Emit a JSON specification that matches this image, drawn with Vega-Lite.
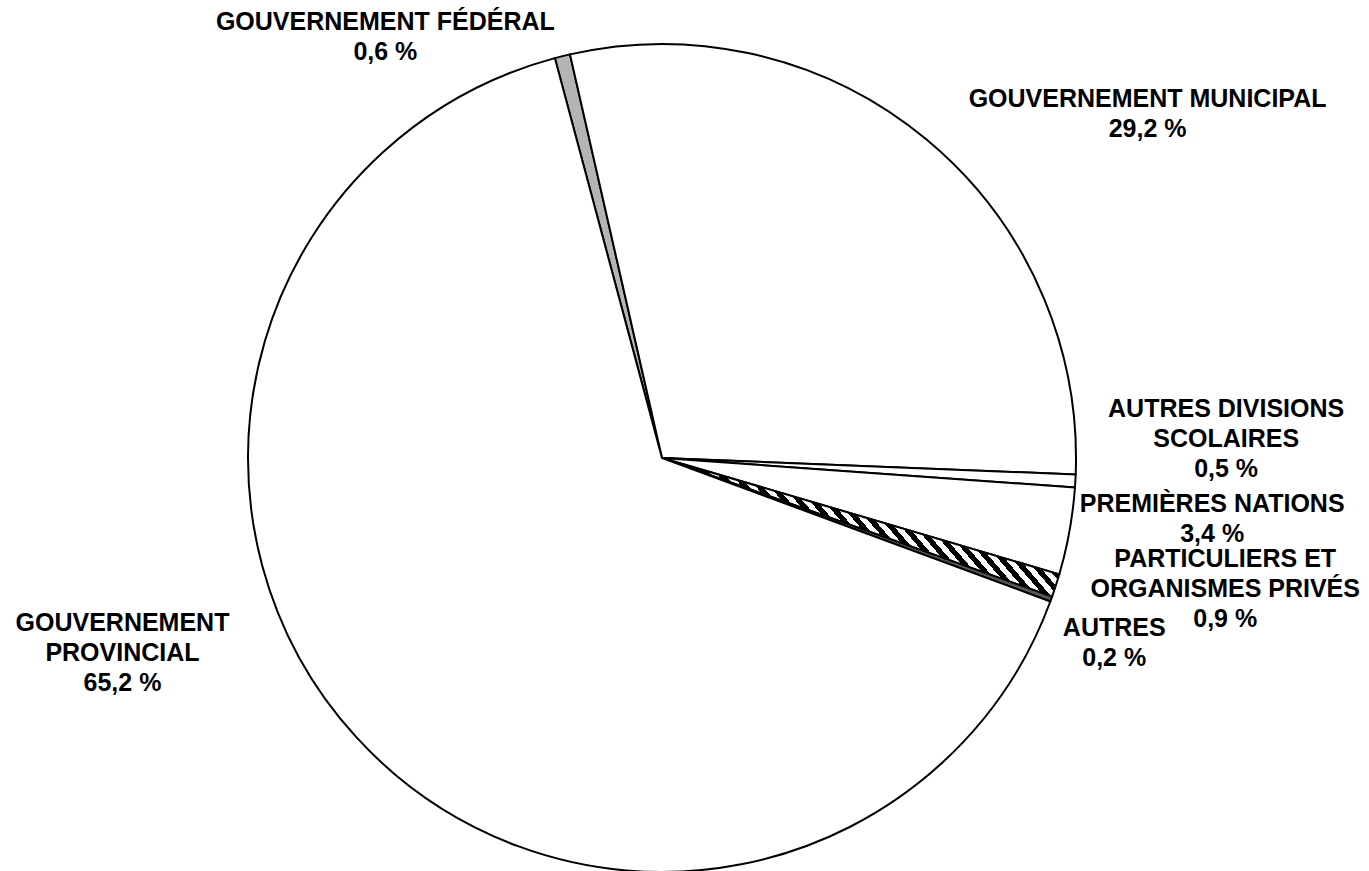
{
  "$schema": "https://vega.github.io/schema/vega-lite/v6.json",
  "width": 1324,
  "height": 916,
  "autosize": "none",
  "padding": {"left": 0, "top": 0, "right": 45, "bottom": 0},
  "background": "white",
  "config": {
    "view": {"stroke": null},
    "text": {"font": "Liberation Sans", "fontWeight": "bold", "fontSize": 25, "lineHeight": 30, "lineBreak": "\n", "align": "center", "baseline": "middle", "fill": "#000"}
  },
  "data": {
    "values": [
      {"cat": "fed", "label": "GOUVERNEMENT FÉDÉRAL\n0,6 %", "value": 0.6, "ord": 1},
      {"cat": "mun", "label": "GOUVERNEMENT MUNICIPAL\n29,2 %", "value": 29.2, "ord": 2},
      {"cat": "div", "label": "AUTRES DIVISIONS\nSCOLAIRES\n0,5 %", "value": 0.5, "ord": 3},
      {"cat": "pn", "label": "PREMIÈRES NATIONS\n3,4 %", "value": 3.4, "ord": 4},
      {"cat": "part", "label": "PARTICULIERS ET\nORGANISMES PRIVÉS\n0,9 %", "value": 0.9, "ord": 5},
      {"cat": "aut", "label": "AUTRES\n0,2 %", "value": 0.2, "ord": 6},
      {"cat": "prov", "label": "GOUVERNEMENT\nPROVINCIAL\n65,2 %", "value": 65.2, "ord": 7}
    ]
  },
  "encoding": {
    "theta": {"field": "value", "type": "quantitative", "stack": true, "scale": {"range": [-0.261799, 6.021386]}},
    "order": {"field": "ord", "type": "quantitative", "sort": "ascending"}
  },
  "layer": [
    {
      "mark": {"type": "arc", "outerRadius": 414, "stroke": "#000", "strokeWidth": 2},
      "encoding": {
        "fill": {
          "condition": [
            {"test": "datum.cat === 'fed'", "value": "#b4b4b4"},
            {"test": "datum.cat === 'aut'", "value": "#555555"},
            {"test": "datum.cat === 'part'", "value": {
              "gradient": "linear", "x1": 0, "y1": 0, "x2": 1, "y2": -0.3,
              "stops": [
                {"offset": 0, "color": "#000"},
                {"offset": 0.016, "color": "#000"}, {"offset": 0.016, "color": "#fff"},
                {"offset": 0.032, "color": "#fff"}, {"offset": 0.032, "color": "#000"},
                {"offset": 0.048, "color": "#000"}, {"offset": 0.048, "color": "#fff"},
                {"offset": 0.064, "color": "#fff"}, {"offset": 0.064, "color": "#000"},
                {"offset": 0.08, "color": "#000"}, {"offset": 0.08, "color": "#fff"},
                {"offset": 0.096, "color": "#fff"}, {"offset": 0.096, "color": "#000"},
                {"offset": 0.112, "color": "#000"}, {"offset": 0.112, "color": "#fff"},
                {"offset": 0.128, "color": "#fff"}, {"offset": 0.128, "color": "#000"},
                {"offset": 0.144, "color": "#000"}, {"offset": 0.144, "color": "#fff"},
                {"offset": 0.16, "color": "#fff"}, {"offset": 0.16, "color": "#000"},
                {"offset": 0.176, "color": "#000"}, {"offset": 0.176, "color": "#fff"},
                {"offset": 0.192, "color": "#fff"}, {"offset": 0.192, "color": "#000"},
                {"offset": 0.208, "color": "#000"}, {"offset": 0.208, "color": "#fff"},
                {"offset": 0.224, "color": "#fff"}, {"offset": 0.224, "color": "#000"},
                {"offset": 0.24, "color": "#000"}, {"offset": 0.24, "color": "#fff"},
                {"offset": 0.256, "color": "#fff"}, {"offset": 0.256, "color": "#000"},
                {"offset": 0.272, "color": "#000"}, {"offset": 0.272, "color": "#fff"},
                {"offset": 0.288, "color": "#fff"}, {"offset": 0.288, "color": "#000"},
                {"offset": 0.304, "color": "#000"}, {"offset": 0.304, "color": "#fff"},
                {"offset": 0.32, "color": "#fff"}, {"offset": 0.32, "color": "#000"},
                {"offset": 0.336, "color": "#000"}, {"offset": 0.336, "color": "#fff"},
                {"offset": 0.352, "color": "#fff"}, {"offset": 0.352, "color": "#000"},
                {"offset": 0.368, "color": "#000"}, {"offset": 0.368, "color": "#fff"},
                {"offset": 0.384, "color": "#fff"}, {"offset": 0.384, "color": "#000"},
                {"offset": 0.4, "color": "#000"}, {"offset": 0.4, "color": "#fff"},
                {"offset": 0.416, "color": "#fff"}, {"offset": 0.416, "color": "#000"},
                {"offset": 0.432, "color": "#000"}, {"offset": 0.432, "color": "#fff"},
                {"offset": 0.448, "color": "#fff"}, {"offset": 0.448, "color": "#000"},
                {"offset": 0.464, "color": "#000"}, {"offset": 0.464, "color": "#fff"},
                {"offset": 0.48, "color": "#fff"}, {"offset": 0.48, "color": "#000"},
                {"offset": 0.496, "color": "#000"}, {"offset": 0.496, "color": "#fff"},
                {"offset": 0.512, "color": "#fff"}, {"offset": 0.512, "color": "#000"},
                {"offset": 0.528, "color": "#000"}, {"offset": 0.528, "color": "#fff"},
                {"offset": 0.544, "color": "#fff"}, {"offset": 0.544, "color": "#000"},
                {"offset": 0.56, "color": "#000"}, {"offset": 0.56, "color": "#fff"},
                {"offset": 0.576, "color": "#fff"}, {"offset": 0.576, "color": "#000"},
                {"offset": 0.592, "color": "#000"}, {"offset": 0.592, "color": "#fff"},
                {"offset": 0.608, "color": "#fff"}, {"offset": 0.608, "color": "#000"},
                {"offset": 0.624, "color": "#000"}, {"offset": 0.624, "color": "#fff"},
                {"offset": 0.64, "color": "#fff"}, {"offset": 0.64, "color": "#000"},
                {"offset": 0.656, "color": "#000"}, {"offset": 0.656, "color": "#fff"},
                {"offset": 0.672, "color": "#fff"}, {"offset": 0.672, "color": "#000"},
                {"offset": 0.688, "color": "#000"}, {"offset": 0.688, "color": "#fff"},
                {"offset": 0.704, "color": "#fff"}, {"offset": 0.704, "color": "#000"},
                {"offset": 0.72, "color": "#000"}, {"offset": 0.72, "color": "#fff"},
                {"offset": 0.736, "color": "#fff"}, {"offset": 0.736, "color": "#000"},
                {"offset": 0.752, "color": "#000"}, {"offset": 0.752, "color": "#fff"},
                {"offset": 0.768, "color": "#fff"}, {"offset": 0.768, "color": "#000"},
                {"offset": 0.784, "color": "#000"}, {"offset": 0.784, "color": "#fff"},
                {"offset": 0.8, "color": "#fff"}
              ]
            }}
          ],
          "value": "#ffffff"
        }
      }
    },
    {
      "mark": {"type": "text", "radius": 435, "dx": -172, "dy": -14},
      "encoding": {"text": {"condition": {"test": "datum.cat === 'fed'", "field": "label"}, "value": ""}}
    },
    {
      "mark": {"type": "text", "radius": 450, "dx": 198, "dy": -13},
      "encoding": {"text": {"condition": {"test": "datum.cat === 'mun'", "field": "label"}, "value": ""}}
    },
    {
      "mark": {"type": "text", "radius": 565, "dx": 0, "dy": -80},
      "encoding": {"text": {"condition": {"test": "datum.cat === 'div'", "field": "label"}, "value": ""}}
    },
    {
      "mark": {"type": "text", "radius": 559, "dx": 0, "dy": -53},
      "encoding": {"text": {"condition": {"test": "datum.cat === 'pn'", "field": "label"}, "value": ""}}
    },
    {
      "mark": {"type": "text", "radius": 592, "dx": 0, "dy": -81},
      "encoding": {"text": {"condition": {"test": "datum.cat === 'part'", "field": "label"}, "value": ""}}
    },
    {
      "mark": {"type": "text", "radius": 481, "dx": 0, "dy": 6},
      "encoding": {"text": {"condition": {"test": "datum.cat === 'aut'", "field": "label"}, "value": ""}}
    },
    {
      "mark": {"type": "text", "radius": 450, "dx": -207, "dy": -138},
      "encoding": {"text": {"condition": {"test": "datum.cat === 'prov'", "field": "label"}, "value": ""}}
    }
  ]
}
